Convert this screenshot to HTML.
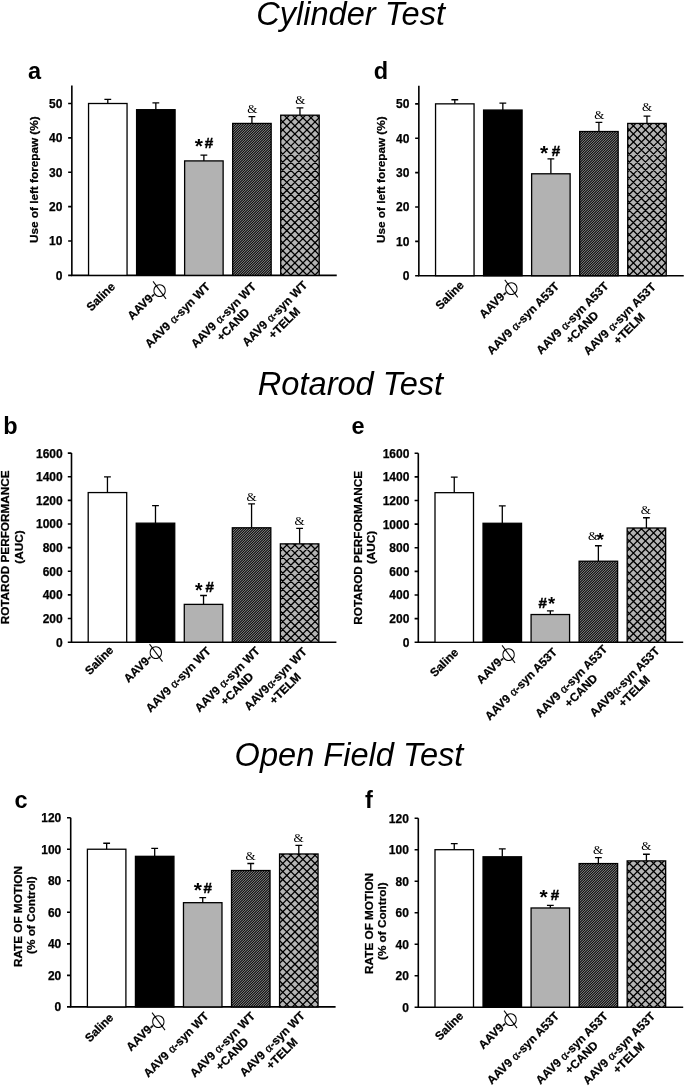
<!DOCTYPE html>
<html lang="en"><head><meta charset="utf-8"><title>Figure</title>
<style>
html,body{margin:0;padding:0;background:#fff}
svg{display:block}
text{font-family:"Liberation Sans", Arial, Helvetica, sans-serif;fill:#000}
.tk{font-size:12px;font-weight:bold;stroke:#000;stroke-width:.25px}
.xl{font-size:11.75px;font-weight:bold;stroke:#000;stroke-width:.25px}
.yl{font-size:11.75px;font-weight:bold;stroke:#000;stroke-width:.25px}
.al{font-family:"Liberation Serif", "Times New Roman", serif;font-weight:normal;font-size:12.5px;stroke:#000;stroke-width:.35px}
.emc{font-family:"DejaVu Sans",sans-serif;font-weight:normal}
.em{font-family:"DejaVu Sans Light","DejaVu Sans",sans-serif;font-weight:normal}
.ttl{font-size:32.6px;font-style:italic}
.pl{font-size:23.5px;font-weight:bold}
.amp{font-family:"Liberation Serif", "Times New Roman", serif;font-size:13px}
.st{font-weight:bold}
.hs{font-size:15.2px;font-weight:bold;stroke:#000;stroke-width:.45px}
</style></head><body>
<svg width="685" height="1089" viewBox="0 0 685 1089" role="img" aria-label="Cylinder, Rotarod and Open Field test bar charts">
<defs>
<pattern id="fine" width="5" height="5" patternUnits="userSpaceOnUse"><rect width="5" height="5" fill="#9e9e9e"/><path d="M-1 1L1 -1M-1 3.5L3.5 -1M-1 6L6 -1M1.5 6L6 1.5M4 6L6 4" stroke="#000" stroke-width="1.03" fill="none"/></pattern>
</defs>
<rect width="685" height="1089" fill="#fff"/>
<text x="350.6" y="24.9" text-anchor="middle" class="ttl">Cylinder Test</text>
<text x="350.5" y="395.3" text-anchor="middle" class="ttl">Rotarod Test</text>
<text x="349" y="765.6" text-anchor="middle" class="ttl">Open Field Test</text>
<text x="28" y="79" class="pl">a</text>
<text x="373.8" y="79.3" class="pl">d</text>
<text x="3.2" y="434.2" class="pl">b</text>
<text x="351.5" y="433.9" class="pl">e</text>
<text x="14.4" y="808" class="pl">c</text>
<text x="365" y="808" class="pl">f</text>
<g id="chart-a">
<path d="M71.85 85.6V275.35H336.75" fill="none" stroke="#000" stroke-width="1.6"/>
<text x="62.4" y="279.75" text-anchor="end" class="tk">0</text>
<text x="62.4" y="245.38" text-anchor="end" class="tk">10</text>
<text x="62.4" y="211.01" text-anchor="end" class="tk">20</text>
<text x="62.4" y="176.64" text-anchor="end" class="tk">30</text>
<text x="62.4" y="142.27" text-anchor="end" class="tk">40</text>
<text x="62.4" y="107.9" text-anchor="end" class="tk">50</text>
<path d="M68.15 275.35H71.85M68.15 240.98H71.85M68.15 206.61H71.85M68.15 172.24H71.85M68.15 137.87H71.85M68.15 103.5H71.85" stroke="#000" stroke-width="1.6" fill="none"/>
<path d="M107.8 103.5V99.38M104.4 99.38H111.2" stroke="#000" stroke-width="1.3" fill="none"/>
<rect x="88.55" y="103.5" width="38.5" height="171.85" fill="#fff" stroke="#000" stroke-width="1.3"/>
<g transform="translate(115.8 287.35) rotate(-45)">
<text x="0" y="0" text-anchor="end" class="xl">Saline</text>
</g>
<path d="M155.84 109.69V102.81M152.44 102.81H159.24" stroke="#000" stroke-width="1.3" fill="none"/>
<rect x="136.59" y="109.69" width="38.5" height="165.66" fill="#000" stroke="#000" stroke-width="1.3"/>
<text transform="translate(156.54 296.25) rotate(-45)" text-anchor="end" class="xl">AAV9-</text>
<text x="159.62" y="294.61" text-anchor="middle" class="emc" style="font-size:16.45px">○</text>
<text transform="translate(159.54 290.25) rotate(-36.6)" y="5.78" text-anchor="middle" class="em" style="font-size:21.8px">|</text>
<path d="M203.88 160.9V155.06M200.48 155.06H207.28" stroke="#000" stroke-width="1.3" fill="none"/>
<rect x="184.63" y="160.9" width="38.5" height="114.45" fill="#b2b2b2" stroke="#000" stroke-width="1.3"/>
<g transform="translate(210.88 287.35) rotate(-45)">
<text x="0" y="0" text-anchor="end" class="xl">AAV9 <tspan class="al" dx="0.3">α</tspan>-syn WT</text>
</g>
<path d="M251.92 123.43V116.56M248.52 116.56H255.32" stroke="#000" stroke-width="1.3" fill="none"/>
<rect x="232.67" y="123.43" width="38.5" height="151.92" fill="url(#fine)" stroke="#000" stroke-width="1.3"/>
<g transform="translate(256.72 287.35) rotate(-45)">
<text x="0" y="0" text-anchor="end" class="xl">AAV9 <tspan class="al" dx="0.3">α</tspan>-syn WT</text>
<text x="-43.01" y="13.5" text-anchor="middle" class="xl">+CAND</text>
</g>
<path d="M299.96 115.19V107.97M296.56 107.97H303.36" stroke="#000" stroke-width="1.3" fill="none"/>
<clipPath id="cpa"><rect x="280.71" y="115.19" width="38.5" height="160.16"/></clipPath>
<rect x="280.71" y="115.19" width="38.5" height="160.16" fill="#b4b4b4"/>
<path clip-path="url(#cpa)" d="M279.71 62.37l40.5 40.5M279.71 70.43l40.5 40.5M279.71 78.49l40.5 40.5M279.71 86.55l40.5 40.5M279.71 94.61l40.5 40.5M279.71 102.67l40.5 40.5M279.71 110.73l40.5 40.5M279.71 118.79l40.5 40.5M279.71 126.85l40.5 40.5M279.71 134.91l40.5 40.5M279.71 142.97l40.5 40.5M279.71 151.03l40.5 40.5M279.71 159.09l40.5 40.5M279.71 167.15l40.5 40.5M279.71 175.21l40.5 40.5M279.71 183.27l40.5 40.5M279.71 191.33l40.5 40.5M279.71 199.39l40.5 40.5M279.71 207.45l40.5 40.5M279.71 215.51l40.5 40.5M279.71 223.57l40.5 40.5M279.71 231.63l40.5 40.5M279.71 239.69l40.5 40.5M279.71 247.75l40.5 40.5M279.71 255.81l40.5 40.5M279.71 263.87l40.5 40.5M279.71 271.93l40.5 40.5M279.71 279.99l40.5 40.5M279.71 288.05l40.5 40.5M279.71 100.73l40.5 -40.5M279.71 108.79l40.5 -40.5M279.71 116.85l40.5 -40.5M279.71 124.91l40.5 -40.5M279.71 132.97l40.5 -40.5M279.71 141.03l40.5 -40.5M279.71 149.09l40.5 -40.5M279.71 157.15l40.5 -40.5M279.71 165.21l40.5 -40.5M279.71 173.27l40.5 -40.5M279.71 181.33l40.5 -40.5M279.71 189.39l40.5 -40.5M279.71 197.45l40.5 -40.5M279.71 205.51l40.5 -40.5M279.71 213.57l40.5 -40.5M279.71 221.63l40.5 -40.5M279.71 229.69l40.5 -40.5M279.71 237.75l40.5 -40.5M279.71 245.81l40.5 -40.5M279.71 253.87l40.5 -40.5M279.71 261.93l40.5 -40.5M279.71 269.99l40.5 -40.5M279.71 278.05l40.5 -40.5M279.71 286.11l40.5 -40.5M279.71 294.17l40.5 -40.5M279.71 302.23l40.5 -40.5M279.71 310.29l40.5 -40.5M279.71 318.35l40.5 -40.5M279.71 326.41l40.5 -40.5" stroke="#000" stroke-width="1.3" fill="none"/>
<rect x="280.71" y="115.19" width="38.5" height="160.16" fill="none" stroke="#000" stroke-width="1.3"/>
<g transform="translate(307.96 285.85) rotate(-45)">
<text x="0" y="0" text-anchor="end" class="xl">AAV9 <tspan class="al" dx="0.3">α</tspan>-syn WT</text>
<text x="-43.01" y="13.5" text-anchor="middle" class="xl">+TELM</text>
</g>
<text x="198.93" y="152.77" text-anchor="middle" class="st" style="font-size:21px">*</text>
<text x="208.88" y="147.86" text-anchor="middle" class="hs">#</text>
<text x="252.32" y="112.86" text-anchor="middle" class="amp">&amp;</text>
<text x="300.36" y="104.27" text-anchor="middle" class="amp">&amp;</text>
<text transform="translate(37.6 179.7) rotate(-90)" text-anchor="middle" class="yl">Use of left forepaw (%)</text>
</g>
<g id="chart-d">
<path d="M418.85 85.8V275.7H683.75" fill="none" stroke="#000" stroke-width="1.6"/>
<text x="409.4" y="280.1" text-anchor="end" class="tk">0</text>
<text x="409.4" y="245.73" text-anchor="end" class="tk">10</text>
<text x="409.4" y="211.36" text-anchor="end" class="tk">20</text>
<text x="409.4" y="176.99" text-anchor="end" class="tk">30</text>
<text x="409.4" y="142.62" text-anchor="end" class="tk">40</text>
<text x="409.4" y="108.25" text-anchor="end" class="tk">50</text>
<path d="M415.15 275.7H418.85M415.15 241.33H418.85M415.15 206.96H418.85M415.15 172.59H418.85M415.15 138.22H418.85M415.15 103.85H418.85" stroke="#000" stroke-width="1.6" fill="none"/>
<path d="M454.8 103.85V99.73M451.4 99.73H458.2" stroke="#000" stroke-width="1.3" fill="none"/>
<rect x="435.55" y="103.85" width="38.5" height="171.85" fill="#fff" stroke="#000" stroke-width="1.3"/>
<g transform="translate(464.7 285.8) rotate(-45)">
<text x="0" y="0" text-anchor="end" class="xl">Saline</text>
</g>
<path d="M502.84 110.04V103.16M499.44 103.16H506.24" stroke="#000" stroke-width="1.3" fill="none"/>
<rect x="483.59" y="110.04" width="38.5" height="165.66" fill="#000" stroke="#000" stroke-width="1.3"/>
<text transform="translate(508.24 294.6) rotate(-45)" text-anchor="end" class="xl">AAV9-</text>
<text x="511.32" y="292.96" text-anchor="middle" class="emc" style="font-size:16.45px">○</text>
<text transform="translate(511.24 288.6) rotate(-36.6)" y="5.78" text-anchor="middle" class="em" style="font-size:21.8px">|</text>
<path d="M550.88 173.79V158.84M547.48 158.84H554.28" stroke="#000" stroke-width="1.3" fill="none"/>
<rect x="531.63" y="173.79" width="38.5" height="101.91" fill="#b2b2b2" stroke="#000" stroke-width="1.3"/>
<g transform="translate(559.88 287.1) rotate(-45)">
<text x="0" y="0" text-anchor="end" class="xl">AAV9 <tspan class="al" dx="0.3">α</tspan>-syn A53T</text>
</g>
<path d="M598.92 131.52V122.41M595.52 122.41H602.32" stroke="#000" stroke-width="1.3" fill="none"/>
<rect x="579.67" y="131.52" width="38.5" height="144.18" fill="url(#fine)" stroke="#000" stroke-width="1.3"/>
<g transform="translate(609.22 286.8) rotate(-45)">
<text x="0" y="0" text-anchor="end" class="xl">AAV9 <tspan class="al" dx="0.3">α</tspan>-syn A53T</text>
<text x="-48.02" y="13.5" text-anchor="middle" class="xl">+CAND</text>
</g>
<path d="M646.96 123.44V116.22M643.56 116.22H650.36" stroke="#000" stroke-width="1.3" fill="none"/>
<clipPath id="cpd"><rect x="627.71" y="123.44" width="38.5" height="152.26"/></clipPath>
<rect x="627.71" y="123.44" width="38.5" height="152.26" fill="#b4b4b4"/>
<path clip-path="url(#cpd)" d="M626.71 70.85l40.5 40.5M626.71 78.91l40.5 40.5M626.71 86.97l40.5 40.5M626.71 95.03l40.5 40.5M626.71 103.09l40.5 40.5M626.71 111.15l40.5 40.5M626.71 119.21l40.5 40.5M626.71 127.27l40.5 40.5M626.71 135.33l40.5 40.5M626.71 143.39l40.5 40.5M626.71 151.45l40.5 40.5M626.71 159.51l40.5 40.5M626.71 167.57l40.5 40.5M626.71 175.63l40.5 40.5M626.71 183.69l40.5 40.5M626.71 191.75l40.5 40.5M626.71 199.81l40.5 40.5M626.71 207.87l40.5 40.5M626.71 215.93l40.5 40.5M626.71 223.99l40.5 40.5M626.71 232.05l40.5 40.5M626.71 240.11l40.5 40.5M626.71 248.17l40.5 40.5M626.71 256.23l40.5 40.5M626.71 264.29l40.5 40.5M626.71 272.35l40.5 40.5M626.71 280.41l40.5 40.5M626.71 288.47l40.5 40.5M626.71 108.37l40.5 -40.5M626.71 116.43l40.5 -40.5M626.71 124.49l40.5 -40.5M626.71 132.55l40.5 -40.5M626.71 140.61l40.5 -40.5M626.71 148.67l40.5 -40.5M626.71 156.73l40.5 -40.5M626.71 164.79l40.5 -40.5M626.71 172.85l40.5 -40.5M626.71 180.91l40.5 -40.5M626.71 188.97l40.5 -40.5M626.71 197.03l40.5 -40.5M626.71 205.09l40.5 -40.5M626.71 213.15l40.5 -40.5M626.71 221.21l40.5 -40.5M626.71 229.27l40.5 -40.5M626.71 237.33l40.5 -40.5M626.71 245.39l40.5 -40.5M626.71 253.45l40.5 -40.5M626.71 261.51l40.5 -40.5M626.71 269.57l40.5 -40.5M626.71 277.63l40.5 -40.5M626.71 285.69l40.5 -40.5M626.71 293.75l40.5 -40.5M626.71 301.81l40.5 -40.5M626.71 309.87l40.5 -40.5M626.71 317.93l40.5 -40.5M626.71 325.99l40.5 -40.5" stroke="#000" stroke-width="1.3" fill="none"/>
<rect x="627.71" y="123.44" width="38.5" height="152.26" fill="none" stroke="#000" stroke-width="1.3"/>
<g transform="translate(656.46 287.7) rotate(-45)">
<text x="0" y="0" text-anchor="end" class="xl">AAV9 <tspan class="al" dx="0.3">α</tspan>-syn A53T</text>
<text x="-48.02" y="13.5" text-anchor="middle" class="xl">+TELM</text>
</g>
<text x="544.09" y="160.05" text-anchor="middle" class="st" style="font-size:21px">*</text>
<text x="555.88" y="156.04" text-anchor="middle" class="hs">#</text>
<text x="599.22" y="118.61" text-anchor="middle" class="amp">&amp;</text>
<text x="646.96" y="110.72" text-anchor="middle" class="amp">&amp;</text>
<text transform="translate(384.6 179.7) rotate(-90)" text-anchor="middle" class="yl">Use of left forepaw (%)</text>
</g>
<g id="chart-b">
<path d="M71.5 453.1V642.2H336.4" fill="none" stroke="#000" stroke-width="1.6"/>
<text x="62.7" y="646.6" text-anchor="end" class="tk">0</text>
<text x="62.7" y="622.96" text-anchor="end" class="tk">200</text>
<text x="62.7" y="599.32" text-anchor="end" class="tk">400</text>
<text x="62.7" y="575.69" text-anchor="end" class="tk">600</text>
<text x="62.7" y="552.05" text-anchor="end" class="tk">800</text>
<text x="62.7" y="528.41" text-anchor="end" class="tk">1000</text>
<text x="62.7" y="504.77" text-anchor="end" class="tk">1200</text>
<text x="62.7" y="481.13" text-anchor="end" class="tk">1400</text>
<text x="62.7" y="457.5" text-anchor="end" class="tk">1600</text>
<path d="M67.8 642.2H71.5M67.8 618.56H71.5M67.8 594.92H71.5M67.8 571.29H71.5M67.8 547.65H71.5M67.8 524.01H71.5M67.8 500.37H71.5M67.8 476.73H71.5M67.8 453.1H71.5" stroke="#000" stroke-width="1.6" fill="none"/>
<path d="M107.45 492.57V476.97M104.05 476.97H110.85" stroke="#000" stroke-width="1.3" fill="none"/>
<rect x="88.2" y="492.57" width="38.5" height="149.63" fill="#fff" stroke="#000" stroke-width="1.3"/>
<g transform="translate(114.25 650.9) rotate(-45)">
<text x="0" y="0" text-anchor="end" class="xl">Saline</text>
</g>
<path d="M155.49 523.18V505.69M152.09 505.69H158.89" stroke="#000" stroke-width="1.3" fill="none"/>
<rect x="136.24" y="523.18" width="38.5" height="119.02" fill="#000" stroke="#000" stroke-width="1.3"/>
<text transform="translate(152.89 659) rotate(-45)" text-anchor="end" class="xl">AAV9-</text>
<text x="155.97" y="657.36" text-anchor="middle" class="emc" style="font-size:16.45px">○</text>
<text transform="translate(155.89 653) rotate(-36.6)" y="5.78" text-anchor="middle" class="em" style="font-size:21.8px">|</text>
<path d="M203.53 604.38V595.51M200.13 595.51H206.93" stroke="#000" stroke-width="1.3" fill="none"/>
<rect x="184.28" y="604.38" width="38.5" height="37.82" fill="#b2b2b2" stroke="#000" stroke-width="1.3"/>
<g transform="translate(211.53 651.9) rotate(-45)">
<text x="0" y="0" text-anchor="end" class="xl">AAV9 <tspan class="al" dx="0.3">α</tspan>-syn WT</text>
</g>
<path d="M251.57 527.79V503.8M248.17 503.8H254.97" stroke="#000" stroke-width="1.3" fill="none"/>
<rect x="232.32" y="527.79" width="38.5" height="114.41" fill="url(#fine)" stroke="#000" stroke-width="1.3"/>
<g transform="translate(260.57 651.6) rotate(-45)">
<text x="0" y="0" text-anchor="end" class="xl">AAV9 <tspan class="al" dx="0.3">α</tspan>-syn WT</text>
<text x="-43.01" y="13.5" text-anchor="middle" class="xl">+CAND</text>
</g>
<path d="M299.61 543.87V528.38M296.21 528.38H303.01" stroke="#000" stroke-width="1.3" fill="none"/>
<clipPath id="cpb"><rect x="280.36" y="543.87" width="38.5" height="98.33"/></clipPath>
<rect x="280.36" y="543.87" width="38.5" height="98.33" fill="#b4b4b4"/>
<path clip-path="url(#cpb)" d="M279.36 489.2l40.5 40.5M279.36 497.26l40.5 40.5M279.36 505.32l40.5 40.5M279.36 513.38l40.5 40.5M279.36 521.44l40.5 40.5M279.36 529.5l40.5 40.5M279.36 537.56l40.5 40.5M279.36 545.62l40.5 40.5M279.36 553.68l40.5 40.5M279.36 561.74l40.5 40.5M279.36 569.8l40.5 40.5M279.36 577.86l40.5 40.5M279.36 585.92l40.5 40.5M279.36 593.98l40.5 40.5M279.36 602.04l40.5 40.5M279.36 610.1l40.5 40.5M279.36 618.16l40.5 40.5M279.36 626.22l40.5 40.5M279.36 634.28l40.5 40.5M279.36 642.34l40.5 40.5M279.36 650.4l40.5 40.5M279.36 536.32l40.5 -40.5M279.36 544.38l40.5 -40.5M279.36 552.44l40.5 -40.5M279.36 560.5l40.5 -40.5M279.36 568.56l40.5 -40.5M279.36 576.62l40.5 -40.5M279.36 584.68l40.5 -40.5M279.36 592.74l40.5 -40.5M279.36 600.8l40.5 -40.5M279.36 608.86l40.5 -40.5M279.36 616.92l40.5 -40.5M279.36 624.98l40.5 -40.5M279.36 633.04l40.5 -40.5M279.36 641.1l40.5 -40.5M279.36 649.16l40.5 -40.5M279.36 657.22l40.5 -40.5M279.36 665.28l40.5 -40.5M279.36 673.34l40.5 -40.5M279.36 681.4l40.5 -40.5M279.36 689.46l40.5 -40.5M279.36 697.52l40.5 -40.5" stroke="#000" stroke-width="1.3" fill="none"/>
<rect x="280.36" y="543.87" width="38.5" height="98.33" fill="none" stroke="#000" stroke-width="1.3"/>
<g transform="translate(307.61 652.4) rotate(-45)">
<text x="0" y="0" text-anchor="end" class="xl">AAV9<tspan class="al" dx="0.3">α</tspan>-syn WT</text>
<text x="-41.38" y="13.5" text-anchor="middle" class="xl">+TELM</text>
</g>
<text x="198.73" y="596.56" text-anchor="middle" class="st" style="font-size:19.5px">*</text>
<text x="209.73" y="591.71" text-anchor="middle" class="hs">#</text>
<text x="251.67" y="500.5" text-anchor="middle" class="amp">&amp;</text>
<text x="299.61" y="524.68" text-anchor="middle" class="amp">&amp;</text>
<text transform="translate(9.3 547.4) rotate(-90)" text-anchor="middle" class="yl">ROTAROD PERFORMANCE</text>
<text transform="translate(22.8 547) rotate(-90)" text-anchor="middle" class="yl">(AUC)</text>
</g>
<g id="chart-e">
<path d="M418.3 453.2V642.3H683.2" fill="none" stroke="#000" stroke-width="1.6"/>
<text x="409.4" y="646.7" text-anchor="end" class="tk">0</text>
<text x="409.4" y="623.06" text-anchor="end" class="tk">200</text>
<text x="409.4" y="599.42" text-anchor="end" class="tk">400</text>
<text x="409.4" y="575.79" text-anchor="end" class="tk">600</text>
<text x="409.4" y="552.15" text-anchor="end" class="tk">800</text>
<text x="409.4" y="528.51" text-anchor="end" class="tk">1000</text>
<text x="409.4" y="504.87" text-anchor="end" class="tk">1200</text>
<text x="409.4" y="481.23" text-anchor="end" class="tk">1400</text>
<text x="409.4" y="457.6" text-anchor="end" class="tk">1600</text>
<path d="M414.6 642.3H418.3M414.6 618.66H418.3M414.6 595.02H418.3M414.6 571.39H418.3M414.6 547.75H418.3M414.6 524.11H418.3M414.6 500.47H418.3M414.6 476.83H418.3M414.6 453.2H418.3" stroke="#000" stroke-width="1.6" fill="none"/>
<path d="M454.25 492.67V477.07M450.85 477.07H457.65" stroke="#000" stroke-width="1.3" fill="none"/>
<rect x="435" y="492.67" width="38.5" height="149.63" fill="#fff" stroke="#000" stroke-width="1.3"/>
<g transform="translate(459.15 653.1) rotate(-45)">
<text x="0" y="0" text-anchor="end" class="xl">Saline</text>
</g>
<path d="M502.29 523.28V505.79M498.89 505.79H505.69" stroke="#000" stroke-width="1.3" fill="none"/>
<rect x="483.04" y="523.28" width="38.5" height="119.02" fill="#000" stroke="#000" stroke-width="1.3"/>
<text transform="translate(505.49 660.2) rotate(-45)" text-anchor="end" class="xl">AAV9-</text>
<text x="508.57" y="658.56" text-anchor="middle" class="emc" style="font-size:16.45px">○</text>
<text transform="translate(508.49 654.2) rotate(-36.6)" y="5.78" text-anchor="middle" class="em" style="font-size:21.8px">|</text>
<path d="M550.33 614.53V610.92M546.93 610.92H553.73" stroke="#000" stroke-width="1.3" fill="none"/>
<rect x="531.08" y="614.53" width="38.5" height="27.77" fill="#b2b2b2" stroke="#000" stroke-width="1.3"/>
<g transform="translate(557.83 652.8) rotate(-45)">
<text x="0" y="0" text-anchor="end" class="xl">AAV9 <tspan class="al" dx="0.3">α</tspan>-syn A53T</text>
</g>
<path d="M598.37 561.22V545.74M594.97 545.74H601.77" stroke="#000" stroke-width="1.3" fill="none"/>
<rect x="579.12" y="561.22" width="38.5" height="81.08" fill="url(#fine)" stroke="#000" stroke-width="1.3"/>
<g transform="translate(608.17 650) rotate(-45)">
<text x="0" y="0" text-anchor="end" class="xl">AAV9 <tspan class="al" dx="0.3">α</tspan>-syn A53T</text>
<text x="-48.02" y="13.5" text-anchor="middle" class="xl">+CAND</text>
</g>
<path d="M646.41 528.01V517.73M643.01 517.73H649.81" stroke="#000" stroke-width="1.3" fill="none"/>
<clipPath id="cpe"><rect x="627.16" y="528.01" width="38.5" height="114.29"/></clipPath>
<rect x="627.16" y="528.01" width="38.5" height="114.29" fill="#b4b4b4"/>
<path clip-path="url(#cpe)" d="M626.16 473.3l40.5 40.5M626.16 481.36l40.5 40.5M626.16 489.42l40.5 40.5M626.16 497.48l40.5 40.5M626.16 505.54l40.5 40.5M626.16 513.6l40.5 40.5M626.16 521.66l40.5 40.5M626.16 529.72l40.5 40.5M626.16 537.78l40.5 40.5M626.16 545.84l40.5 40.5M626.16 553.9l40.5 40.5M626.16 561.96l40.5 40.5M626.16 570.02l40.5 40.5M626.16 578.08l40.5 40.5M626.16 586.14l40.5 40.5M626.16 594.2l40.5 40.5M626.16 602.26l40.5 40.5M626.16 610.32l40.5 40.5M626.16 618.38l40.5 40.5M626.16 626.44l40.5 40.5M626.16 634.5l40.5 40.5M626.16 642.56l40.5 40.5M626.16 650.62l40.5 40.5M626.16 519.98l40.5 -40.5M626.16 528.04l40.5 -40.5M626.16 536.1l40.5 -40.5M626.16 544.16l40.5 -40.5M626.16 552.22l40.5 -40.5M626.16 560.28l40.5 -40.5M626.16 568.34l40.5 -40.5M626.16 576.4l40.5 -40.5M626.16 584.46l40.5 -40.5M626.16 592.52l40.5 -40.5M626.16 600.58l40.5 -40.5M626.16 608.64l40.5 -40.5M626.16 616.7l40.5 -40.5M626.16 624.76l40.5 -40.5M626.16 632.82l40.5 -40.5M626.16 640.88l40.5 -40.5M626.16 648.94l40.5 -40.5M626.16 657l40.5 -40.5M626.16 665.06l40.5 -40.5M626.16 673.12l40.5 -40.5M626.16 681.18l40.5 -40.5M626.16 689.24l40.5 -40.5M626.16 697.3l40.5 -40.5" stroke="#000" stroke-width="1.3" fill="none"/>
<rect x="627.16" y="528.01" width="38.5" height="114.29" fill="none" stroke="#000" stroke-width="1.3"/>
<g transform="translate(660.21 651.7) rotate(-45)">
<text x="0" y="0" text-anchor="end" class="xl">AAV9<tspan class="al" dx="0.3">α</tspan>-syn A53T</text>
<text x="-46.39" y="13.5" text-anchor="middle" class="xl">+TELM</text>
</g>
<text x="542.63" y="607.82" text-anchor="middle" class="hs">#</text>
<text x="551.52" y="610.3" text-anchor="middle" class="st" style="font-size:18.4px">*</text>
<text x="593.07" y="540.44" text-anchor="middle" class="amp">&amp;</text>
<text x="600.17" y="545.83" text-anchor="middle" class="st" style="font-size:19px">*</text>
<text x="645.91" y="513.53" text-anchor="middle" class="amp">&amp;</text>
<text transform="translate(361.5 547.8) rotate(-90)" text-anchor="middle" class="yl">ROTAROD PERFORMANCE</text>
<text transform="translate(375 547.4) rotate(-90)" text-anchor="middle" class="yl">(AUC)</text>
</g>
<g id="chart-c">
<path d="M70.7 817.7V1006.9H335.6" fill="none" stroke="#000" stroke-width="1.6"/>
<text x="61.3" y="1011.3" text-anchor="end" class="tk">0</text>
<text x="61.3" y="979.77" text-anchor="end" class="tk">20</text>
<text x="61.3" y="948.23" text-anchor="end" class="tk">40</text>
<text x="61.3" y="916.7" text-anchor="end" class="tk">60</text>
<text x="61.3" y="885.16" text-anchor="end" class="tk">80</text>
<text x="61.3" y="853.63" text-anchor="end" class="tk">100</text>
<text x="61.3" y="822.1" text-anchor="end" class="tk">120</text>
<path d="M67 1006.9H70.7M67 975.37H70.7M67 943.83H70.7M67 912.3H70.7M67 880.76H70.7M67 849.23H70.7M67 817.7H70.7" stroke="#000" stroke-width="1.6" fill="none"/>
<path d="M106.65 849.23V843.24M103.25 843.24H110.05" stroke="#000" stroke-width="1.3" fill="none"/>
<rect x="87.4" y="849.23" width="38.5" height="157.67" fill="#fff" stroke="#000" stroke-width="1.3"/>
<g transform="translate(114.15 1018.3) rotate(-45)">
<text x="0" y="0" text-anchor="end" class="xl">Saline</text>
</g>
<path d="M154.69 856.33V848.44M151.29 848.44H158.09" stroke="#000" stroke-width="1.3" fill="none"/>
<rect x="135.44" y="856.33" width="38.5" height="150.57" fill="#000" stroke="#000" stroke-width="1.3"/>
<text transform="translate(155.39 1027.4) rotate(-45)" text-anchor="end" class="xl">AAV9-</text>
<text x="158.47" y="1025.76" text-anchor="middle" class="emc" style="font-size:16.45px">○</text>
<text transform="translate(158.39 1021.4) rotate(-36.6)" y="5.78" text-anchor="middle" class="em" style="font-size:21.8px">|</text>
<path d="M202.73 902.68V897.63M199.33 897.63H206.13" stroke="#000" stroke-width="1.3" fill="none"/>
<rect x="183.48" y="902.68" width="38.5" height="104.22" fill="#b2b2b2" stroke="#000" stroke-width="1.3"/>
<g transform="translate(209.33 1016.9) rotate(-45)">
<text x="0" y="0" text-anchor="end" class="xl">AAV9 <tspan class="al" dx="0.3">α</tspan>-syn WT</text>
</g>
<path d="M250.77 870.52V863.5M247.37 863.5H254.17" stroke="#000" stroke-width="1.3" fill="none"/>
<rect x="231.52" y="870.52" width="38.5" height="136.38" fill="url(#fine)" stroke="#000" stroke-width="1.3"/>
<g transform="translate(255.77 1016.9) rotate(-45)">
<text x="0" y="0" text-anchor="end" class="xl">AAV9 <tspan class="al" dx="0.3">α</tspan>-syn WT</text>
<text x="-43.01" y="13.5" text-anchor="middle" class="xl">+CAND</text>
</g>
<path d="M298.81 853.96V845.45M295.41 845.45H302.21" stroke="#000" stroke-width="1.3" fill="none"/>
<clipPath id="cpc"><rect x="279.56" y="853.96" width="38.5" height="152.94"/></clipPath>
<rect x="279.56" y="853.96" width="38.5" height="152.94" fill="#b4b4b4"/>
<path clip-path="url(#cpc)" d="M278.56 802.74l40.5 40.5M278.56 810.8l40.5 40.5M278.56 818.86l40.5 40.5M278.56 826.92l40.5 40.5M278.56 834.98l40.5 40.5M278.56 843.04l40.5 40.5M278.56 851.1l40.5 40.5M278.56 859.16l40.5 40.5M278.56 867.22l40.5 40.5M278.56 875.28l40.5 40.5M278.56 883.34l40.5 40.5M278.56 891.4l40.5 40.5M278.56 899.46l40.5 40.5M278.56 907.52l40.5 40.5M278.56 915.58l40.5 40.5M278.56 923.64l40.5 40.5M278.56 931.7l40.5 40.5M278.56 939.76l40.5 40.5M278.56 947.82l40.5 40.5M278.56 955.88l40.5 40.5M278.56 963.94l40.5 40.5M278.56 972l40.5 40.5M278.56 980.06l40.5 40.5M278.56 988.12l40.5 40.5M278.56 996.18l40.5 40.5M278.56 1004.24l40.5 40.5M278.56 1012.3l40.5 40.5M278.56 1020.36l40.5 40.5M278.56 843.4l40.5 -40.5M278.56 851.46l40.5 -40.5M278.56 859.52l40.5 -40.5M278.56 867.58l40.5 -40.5M278.56 875.64l40.5 -40.5M278.56 883.7l40.5 -40.5M278.56 891.76l40.5 -40.5M278.56 899.82l40.5 -40.5M278.56 907.88l40.5 -40.5M278.56 915.94l40.5 -40.5M278.56 924l40.5 -40.5M278.56 932.06l40.5 -40.5M278.56 940.12l40.5 -40.5M278.56 948.18l40.5 -40.5M278.56 956.24l40.5 -40.5M278.56 964.3l40.5 -40.5M278.56 972.36l40.5 -40.5M278.56 980.42l40.5 -40.5M278.56 988.48l40.5 -40.5M278.56 996.54l40.5 -40.5M278.56 1004.6l40.5 -40.5M278.56 1012.66l40.5 -40.5M278.56 1020.72l40.5 -40.5M278.56 1028.78l40.5 -40.5M278.56 1036.84l40.5 -40.5M278.56 1044.9l40.5 -40.5M278.56 1052.96l40.5 -40.5M278.56 1061.02l40.5 -40.5" stroke="#000" stroke-width="1.3" fill="none"/>
<rect x="279.56" y="853.96" width="38.5" height="152.94" fill="none" stroke="#000" stroke-width="1.3"/>
<g transform="translate(305.61 1016.3) rotate(-45)">
<text x="0" y="0" text-anchor="end" class="xl">AAV9 <tspan class="al" dx="0.3">α</tspan>-syn WT</text>
<text x="-43.01" y="13.5" text-anchor="middle" class="xl">+TELM</text>
</g>
<text x="197.89" y="897.14" text-anchor="middle" class="st" style="font-size:21px">*</text>
<text x="207.68" y="892.83" text-anchor="middle" class="hs">#</text>
<text x="250.47" y="859.6" text-anchor="middle" class="amp">&amp;</text>
<text x="298.61" y="842.05" text-anchor="middle" class="amp">&amp;</text>
<text transform="translate(21.5 916.6) rotate(-90)" text-anchor="middle" class="yl">RATE OF MOTION</text>
<text transform="translate(34.6 915.1) rotate(-90)" text-anchor="middle" class="yl">(% of Control)</text>
</g>
<g id="chart-f">
<path d="M418.3 818.2V1007.2H683.2" fill="none" stroke="#000" stroke-width="1.6"/>
<text x="408.9" y="1011.6" text-anchor="end" class="tk">0</text>
<text x="408.9" y="980.1" text-anchor="end" class="tk">20</text>
<text x="408.9" y="948.6" text-anchor="end" class="tk">40</text>
<text x="408.9" y="917.1" text-anchor="end" class="tk">60</text>
<text x="408.9" y="885.6" text-anchor="end" class="tk">80</text>
<text x="408.9" y="854.1" text-anchor="end" class="tk">100</text>
<text x="408.9" y="822.6" text-anchor="end" class="tk">120</text>
<path d="M414.6 1007.2H418.3M414.6 975.7H418.3M414.6 944.2H418.3M414.6 912.7H418.3M414.6 881.2H418.3M414.6 849.7H418.3M414.6 818.2H418.3" stroke="#000" stroke-width="1.6" fill="none"/>
<path d="M454.25 849.7V843.72M450.85 843.72H457.65" stroke="#000" stroke-width="1.3" fill="none"/>
<rect x="435" y="849.7" width="38.5" height="157.5" fill="#fff" stroke="#000" stroke-width="1.3"/>
<g transform="translate(464.25 1016.5) rotate(-45)">
<text x="0" y="0" text-anchor="end" class="xl">Saline</text>
</g>
<path d="M502.29 856.79V848.91M498.89 848.91H505.69" stroke="#000" stroke-width="1.3" fill="none"/>
<rect x="483.04" y="856.79" width="38.5" height="150.41" fill="#000" stroke="#000" stroke-width="1.3"/>
<text transform="translate(507.49 1025.4) rotate(-45)" text-anchor="end" class="xl">AAV9-</text>
<text x="510.57" y="1023.76" text-anchor="middle" class="emc" style="font-size:16.45px">○</text>
<text transform="translate(510.49 1019.4) rotate(-36.6)" y="5.78" text-anchor="middle" class="em" style="font-size:21.8px">|</text>
<path d="M550.33 907.98V905.46M546.93 905.46H553.73" stroke="#000" stroke-width="1.3" fill="none"/>
<rect x="531.08" y="907.98" width="38.5" height="99.23" fill="#b2b2b2" stroke="#000" stroke-width="1.3"/>
<g transform="translate(559.83 1016.9) rotate(-45)">
<text x="0" y="0" text-anchor="end" class="xl">AAV9 <tspan class="al" dx="0.3">α</tspan>-syn A53T</text>
</g>
<path d="M598.37 863.56V857.58M594.97 857.58H601.77" stroke="#000" stroke-width="1.3" fill="none"/>
<rect x="579.12" y="863.56" width="38.5" height="143.64" fill="url(#fine)" stroke="#000" stroke-width="1.3"/>
<g transform="translate(608.67 1016.9) rotate(-45)">
<text x="0" y="0" text-anchor="end" class="xl">AAV9 <tspan class="al" dx="0.3">α</tspan>-syn A53T</text>
<text x="-48.02" y="13.5" text-anchor="middle" class="xl">+CAND</text>
</g>
<path d="M646.41 860.88V854.27M643.01 854.27H649.81" stroke="#000" stroke-width="1.3" fill="none"/>
<clipPath id="cpf"><rect x="627.16" y="860.88" width="38.5" height="146.32"/></clipPath>
<rect x="627.16" y="860.88" width="38.5" height="146.32" fill="#b4b4b4"/>
<path clip-path="url(#cpf)" d="M626.16 811.82l40.5 40.5M626.16 819.88l40.5 40.5M626.16 827.94l40.5 40.5M626.16 836l40.5 40.5M626.16 844.06l40.5 40.5M626.16 852.12l40.5 40.5M626.16 860.18l40.5 40.5M626.16 868.24l40.5 40.5M626.16 876.3l40.5 40.5M626.16 884.36l40.5 40.5M626.16 892.42l40.5 40.5M626.16 900.48l40.5 40.5M626.16 908.54l40.5 40.5M626.16 916.6l40.5 40.5M626.16 924.66l40.5 40.5M626.16 932.72l40.5 40.5M626.16 940.78l40.5 40.5M626.16 948.84l40.5 40.5M626.16 956.9l40.5 40.5M626.16 964.96l40.5 40.5M626.16 973.02l40.5 40.5M626.16 981.08l40.5 40.5M626.16 989.14l40.5 40.5M626.16 997.2l40.5 40.5M626.16 1005.26l40.5 40.5M626.16 1013.32l40.5 40.5M626.16 1021.38l40.5 40.5M626.16 850.44l40.5 -40.5M626.16 858.5l40.5 -40.5M626.16 866.56l40.5 -40.5M626.16 874.62l40.5 -40.5M626.16 882.68l40.5 -40.5M626.16 890.74l40.5 -40.5M626.16 898.8l40.5 -40.5M626.16 906.86l40.5 -40.5M626.16 914.92l40.5 -40.5M626.16 922.98l40.5 -40.5M626.16 931.04l40.5 -40.5M626.16 939.1l40.5 -40.5M626.16 947.16l40.5 -40.5M626.16 955.22l40.5 -40.5M626.16 963.28l40.5 -40.5M626.16 971.34l40.5 -40.5M626.16 979.4l40.5 -40.5M626.16 987.46l40.5 -40.5M626.16 995.52l40.5 -40.5M626.16 1003.58l40.5 -40.5M626.16 1011.64l40.5 -40.5M626.16 1019.7l40.5 -40.5M626.16 1027.76l40.5 -40.5M626.16 1035.82l40.5 -40.5M626.16 1043.88l40.5 -40.5M626.16 1051.94l40.5 -40.5M626.16 1060l40.5 -40.5" stroke="#000" stroke-width="1.3" fill="none"/>
<rect x="627.16" y="860.88" width="38.5" height="146.32" fill="none" stroke="#000" stroke-width="1.3"/>
<g transform="translate(655.91 1017) rotate(-45)">
<text x="0" y="0" text-anchor="end" class="xl">AAV9 <tspan class="al" dx="0.3">α</tspan>-syn A53T</text>
<text x="-48.02" y="13.5" text-anchor="middle" class="xl">+TELM</text>
</g>
<text x="543.54" y="904.17" text-anchor="middle" class="st" style="font-size:21px">*</text>
<text x="555.03" y="900.46" text-anchor="middle" class="hs">#</text>
<text x="598.17" y="853.62" text-anchor="middle" class="amp">&amp;</text>
<text x="646.21" y="849.67" text-anchor="middle" class="amp">&amp;</text>
<text transform="translate(372.8 923.4) rotate(-90)" text-anchor="middle" class="yl">RATE OF MOTION</text>
<text transform="translate(386.3 921.2) rotate(-90)" text-anchor="middle" class="yl">(% of Control)</text>
</g>
</svg></body></html>
